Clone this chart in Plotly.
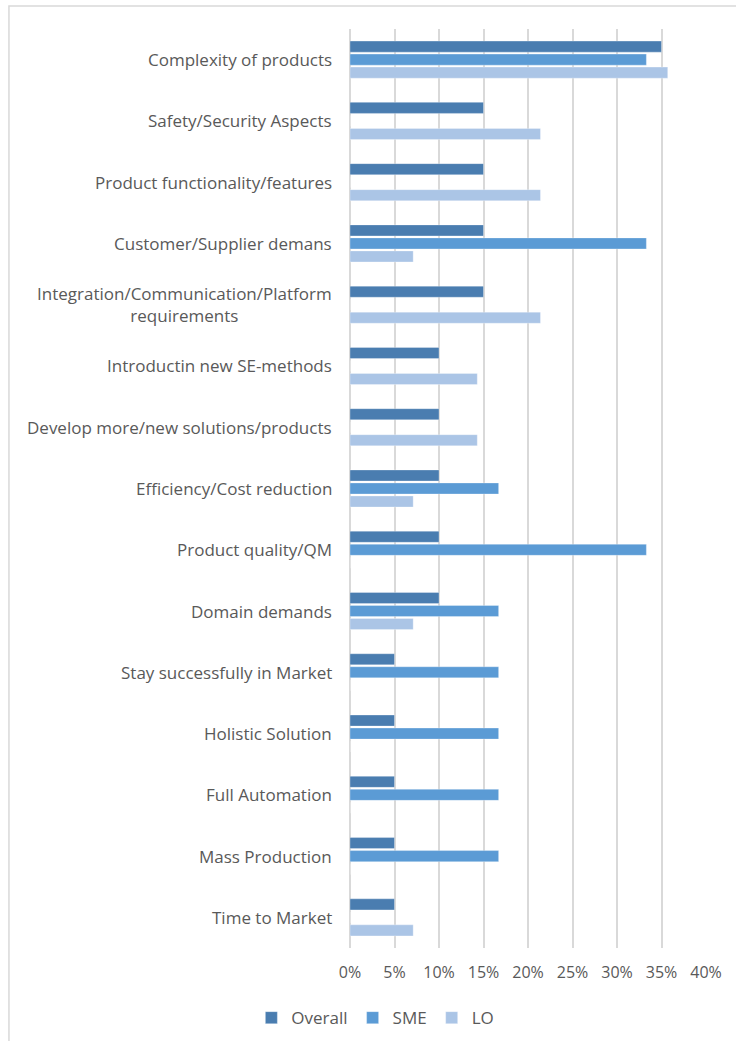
import plotly.graph_objects as go

categories = [
    "Complexity of products",
    "Safety/Security Aspects",
    "Product functionality/features",
    "Customer/Supplier demans",
    "Integration/Communication/Platform<br>requirements",
    "Introductin new SE-methods",
    "Develop more/new solutions/products",
    "Efficiency/Cost reduction",
    "Product quality/QM",
    "Domain demands",
    "Stay successfully in Market",
    "Holistic Solution",
    "Full Automation",
    "Mass Production",
    "Time to Market",
]

overall = [0.35, 0.15, 0.15, 0.15, 0.15, 0.10, 0.10, 0.10, 0.10, 0.10, 0.05, 0.05, 0.05, 0.05, 0.05]
sme = [0.333, 0, 0, 0.333, 0, 0, 0, 0.167, 0.333, 0.167, 0.167, 0.167, 0.167, 0.167, 0]
lo = [0.357, 0.214, 0.214, 0.071, 0.214, 0.143, 0.143, 0.071, 0, 0.071, 0, 0, 0, 0, 0.071]

series = [("Overall", overall, "#4a7db0"), ("SME", sme, "#5b9bd5"), ("LO", lo, "#abc5e6")]

FONT = "Open Sans"
TEXT = "#595959"

fig = go.Figure()
for name, vals, color in series:
    fig.add_trace(go.Bar(
        y=categories, x=vals, name=name, orientation="h",
        marker=dict(color=color, line=dict(color="rgba(255,255,255,0.6)", width=0.5)),
    ))

# category labels, centred per line and right-aligned against the axis
for cat in categories:
    fig.add_annotation(
        x=0, xref="paper", y=cat, yref="y", text=cat, showarrow=False,
        xanchor="right", align="center", xshift=-16,
        font=dict(family=FONT, size=17, color=TEXT),
    )

# chart frame
fig.add_shape(type="rect", xref="paper", yref="paper",
              x0=-0.958, x1=1.3, y0=-0.2, y1=1.025,
              line=dict(color="#d9d9d9", width=1.5), fillcolor="rgba(0,0,0,0)", layer="below")

fig.update_layout(
    width=736, height=1041,
    margin=dict(l=350, r=30, t=29, b=93),
    paper_bgcolor="white", plot_bgcolor="white",
    barmode="group", bargap=0.363, bargroupgap=0.15,
    font=dict(family=FONT, size=17, color=TEXT),
    showlegend=True,
    legend=dict(orientation="h", xref="container", x=0.51, xanchor="center",
                yref="container", y=0.022, yanchor="middle",
                font=dict(family=FONT, size=17, color=TEXT), itemwidth=30,
                traceorder="normal"),
    xaxis=dict(range=[0, 0.40], dtick=0.05, tickformat=".0%", showgrid=True,
               gridcolor="#d9d9d9", gridwidth=1.5, zeroline=True, zerolinecolor="#d9d9d9",
               zerolinewidth=1.5, showline=False, ticks="", ticklabelstandoff=13,
               tickfont=dict(family=FONT, size=16, color=TEXT)),
    yaxis=dict(autorange="reversed", showticklabels=False, showgrid=False, ticks="",
               showline=False),
)

fig.write_html("out.html")
